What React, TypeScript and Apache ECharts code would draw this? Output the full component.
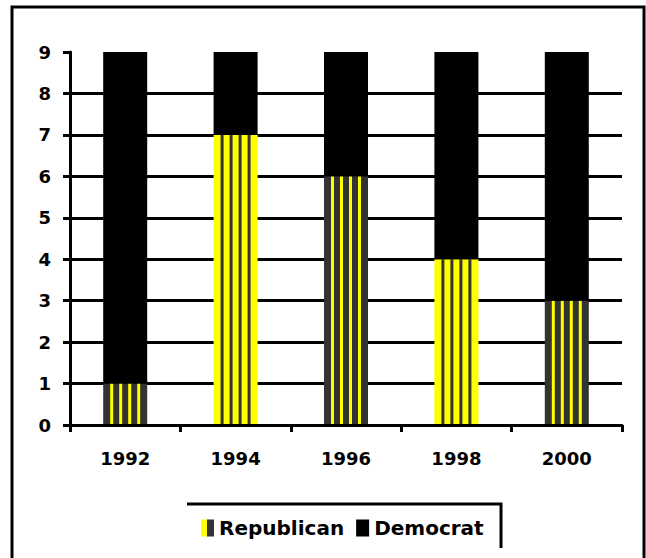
import React, { useEffect, useRef } from 'react';
import * as echarts from 'echarts';

const years = ['1992', '1994', '1996', '1998', '2000'];
const republican = [1, 7, 6, 4, 3];
const democrat = [8, 2, 3, 5, 6];
const yellowBase = [false, true, false, true, false];
const yMin = 0;
const yMax = 9;
const yInterval = 1;

const FONT = '"DejaVu Sans", Verdana, sans-serif';
const BAR_W = 44;
const YELLOW = '#ffff00';
const DARK = '#333333';

function legendIcon() {
  const c = document.createElement('canvas');
  c.width = 13;
  c.height = 17;
  const ctx = c.getContext('2d')!;
  ctx.fillStyle = YELLOW;
  ctx.fillRect(0, 0, 6, 17);
  ctx.fillStyle = DARK;
  ctx.fillRect(6, 0, 7, 17);
  return 'image://' + c.toDataURL();
}

export default function App() {
  const ref = useRef<HTMLDivElement>(null);
  useEffect(() => {
    if (!ref.current) return;
    const chart = echarts.init(ref.current, null, { renderer: 'svg' });

    const repData = republican.map((v, i) => [i, 0, v]);
    const demData = democrat.map((v, i) => [i, republican[i], republican[i] + v]);

    const renderStriped = (params: any, api: any) => {
      const i = api.value(0);
      const p0 = api.coord([i, api.value(1)]);
      const p1 = api.coord([i, api.value(2)]);
      const x = p0[0] - BAR_W / 2;
      const y = p1[1];
      const h = p0[1] - p1[1];
      const yb = yellowBase[i];
      const children: any[] = [
        { type: 'rect', shape: { x, y, width: BAR_W, height: h }, style: { fill: yb ? YELLOW : DARK } },
      ];
      for (let off = 7; off + 3 <= BAR_W; off += 9) {
        children.push({
          type: 'rect',
          shape: { x: x + off, y, width: 3, height: h },
          style: { fill: yb ? DARK : YELLOW },
        });
      }
      return { type: 'group', children };
    };

    const renderSolid = (params: any, api: any) => {
      const i = api.value(0);
      const p0 = api.coord([i, api.value(1)]);
      const p1 = api.coord([i, api.value(2)]);
      return {
        type: 'rect',
        shape: { x: p0[0] - BAR_W / 2, y: p1[1], width: BAR_W, height: p0[1] - p1[1] },
        style: { fill: '#000000' },
      };
    };

    chart.setOption({
      animation: false,
      backgroundColor: '#ffffff',
      grid: { left: 70, right: 24, top: 52, bottom: 133 },
      legend: {
        data: [
          { name: 'Republican', icon: legendIcon() },
          { name: 'Democrat', icon: 'rect', itemStyle: { color: '#000' } },
        ],
        itemWidth: 13,
        itemHeight: 17,
        itemGap: 12,
        left: 196,
        top: 513,
        textStyle: { fontFamily: FONT, fontWeight: 'bold', fontSize: 20, color: '#000' },
      },
      xAxis: {
        type: 'category',
        data: years,
        boundaryGap: true,
        z: 5,
        axisLine: { lineStyle: { color: '#000', width: 3 } },
        axisTick: { show: true, length: 7, lineStyle: { color: '#000', width: 3 } },
        axisLabel: { margin: 24, fontFamily: FONT, fontWeight: 'bold', fontSize: 18, color: '#000' },
      },
      yAxis: {
        type: 'value',
        min: yMin,
        max: yMax,
        interval: yInterval,
        axisLine: { show: true, lineStyle: { color: '#000', width: 3 } },
        axisTick: { show: true, length: 7, lineStyle: { color: '#000', width: 3 } },
        axisLabel: { margin: 19, fontFamily: FONT, fontWeight: 'bold', fontSize: 18, color: '#000' },
        splitLine: { show: true, showMaxLine: false, lineStyle: { color: '#000', width: 3 } },
      },
      series: [
        {
          name: 'Republican',
          type: 'custom',
          renderItem: renderStriped,
          itemStyle: { color: DARK },
          encode: { x: 0, y: [1, 2] },
          data: repData,
        },
        {
          name: 'Democrat',
          type: 'custom',
          renderItem: renderSolid,
          itemStyle: { color: '#000000' },
          encode: { x: 0, y: [1, 2] },
          data: demData,
        },
      ],
      graphic: [
        {
          type: 'polyline',
          shape: { points: [[12, 562], [12, 7], [644, 7], [644, 562]] },
          style: { stroke: '#000', lineWidth: 3, fill: 'none' },
          silent: true,
        },
        {
          type: 'polyline',
          shape: { points: [[187, 504], [501, 504], [501, 548]] },
          style: { stroke: '#000', lineWidth: 3, fill: 'none' },
          silent: true,
        },
      ],
    });
    return () => chart.dispose();
  }, []);
  return (
    <div
      ref={ref}
      style={{ position: 'fixed', left: 0, top: 0, width: 646, height: 558 }}
    />
  );
}
